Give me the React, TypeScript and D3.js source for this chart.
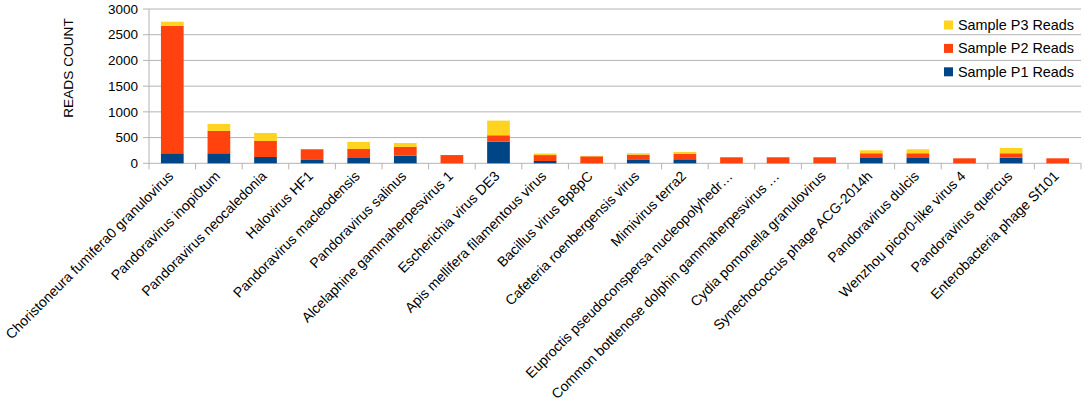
import React from 'react';
import * as d3 from 'd3';

// virus names along the x axis
const categories = [
  'Choristoneura fumifera0 granulovirus',
  'Pandoravirus inopi0tum',
  'Pandoravirus neocaledonia',
  'Halovirus HF1',
  'Pandoravirus macleodensis',
  'Pandoravirus salinus',
  'Alcelaphine gammaherpesvirus 1',
  'Escherichia virus DE3',
  'Apis mellifera filamentous virus',
  'Bacillus virus Bp8pC',
  'Cafeteria roenbergensis virus',
  'Mimivirus terra2',
  'Euproctis pseudoconspersa nucleopolyhedr…',
  'Common bottlenose dolphin gammaherpesvirus …',
  'Cydia pomonella granulovirus',
  'Synechococcus phage ACG-2014h',
  'Pandoravirus dulcis',
  'Wenzhou picor0-like virus 4',
  'Pandoravirus quercus',
  'Enterobacteria phage Sf101',
];

const p1Reads = [195, 195, 123, 65, 103, 150, 0, 421, 45, 0, 65, 78, 0, 0, 0, 103, 103, 0, 110, 0];
const p2Reads = [2480, 434, 311, 208, 175, 168, 160, 124, 115, 136, 103, 109, 117, 117, 117, 92, 92, 97, 85, 97];
const p3Reads = [78, 137, 156, 0, 137, 77, 0, 285, 30, 8, 27, 33, 0, 0, 0, 58, 78, 0, 103, 0];

const yTicks = [0, 500, 1000, 1500, 2000, 2500, 3000];

const seriesKeys = ['p1', 'p2', 'p3'];
const seriesNames: Record<string, string> = {
  p1: 'Sample P1 Reads',
  p2: 'Sample P2 Reads',
  p3: 'Sample P3 Reads',
};
const colors: Record<string, string> = {
  p1: '#004586',
  p2: '#ff420e',
  p3: '#ffd320',
};

const font = '"Liberation Sans", Arial, sans-serif';

const App: React.FC = () => {
  const width = 1084;
  const height = 401;
  const margin = { top: 9, right: 3, left: 149 };
  const plotBottom = 163.3;
  const plotRight = width - margin.right;

  const rows = categories.map((c, i) => ({
    name: c,
    p1: p1Reads[i],
    p2: p2Reads[i],
    p3: p3Reads[i],
  }));

  const stacked = d3.stack<any>().keys(seriesKeys)(rows);

  // cells (for ticks) and bars (narrower, centred in cells)
  const xCell = d3.scaleBand<string>().domain(categories).range([margin.left, plotRight]);
  const xBar = d3
    .scaleBand<string>()
    .domain(categories)
    .range([margin.left, plotRight])
    .paddingInner(0.513)
    .paddingOuter(0.2565);

  const y = d3.scaleLinear().domain([0, 3000]).range([plotBottom, margin.top]);

  const grid = '#b3b3b3';

  return (
    <div style={{ position: 'absolute', left: 0, top: 0 }}>
      <svg width={width} height={height} style={{ display: 'block', background: '#fff' }}>
        {/* horizontal gridlines with small ticks left of axis */}
        {yTicks.map(t => (
          <g key={t}>
            <line x1={margin.left - 6} x2={plotRight} y1={y(t)} y2={y(t)} stroke={grid} strokeWidth={1} />
            <text
              x={138}
              y={y(t)}
              dy="0.35em"
              textAnchor="end"
              fontFamily={font}
              fontSize={13.5}
              fill="#000"
            >
              {t}
            </text>
          </g>
        ))}
        {/* y axis line */}
        <line x1={margin.left} x2={margin.left} y1={margin.top} y2={plotBottom + 6} stroke={grid} />
        {/* x tick marks at cell boundaries */}
        {categories.map(c => (
          <line
            key={'t' + c}
            x1={(xCell(c) as number) + xCell.bandwidth()}
            x2={(xCell(c) as number) + xCell.bandwidth()}
            y1={plotBottom}
            y2={plotBottom + 6}
            stroke={grid}
          />
        ))}

        {/* stacked bars */}
        {stacked.map(s => (
          <g key={s.key} fill={colors[s.key]}>
            {s.map((d, i) => {
              const h = y(d[0]) - y(d[1]);
              if (h <= 0) return null;
              return (
                <rect
                  key={i}
                  x={xBar(categories[i])}
                  width={xBar.bandwidth()}
                  y={y(d[1])}
                  height={h}
                />
              );
            })}
          </g>
        ))}

        {/* rotated category labels */}
        {categories.map(c => {
          const cx = (xCell(c) as number) + xCell.bandwidth() / 2 + 2;
          const cy = 177;
          return (
            <text
              key={'l' + c}
              transform={`translate(${cx},${cy}) rotate(-45)`}
              textAnchor="end"
              fontFamily={font}
              fontSize={14}
              fill="#000"
            >
              {c}
            </text>
          );
        })}

        {/* y axis title */}
        <text
          transform={`translate(73,68) rotate(-90)`}
          textAnchor="middle"
          fontFamily={font}
          fontSize={13.7}
          fill="#000"
        >
          READS COUNT
        </text>

        {/* legend */}
        {['p3', 'p2', 'p1'].map((k, i) => (
          <g key={'lg' + k} transform={`translate(944,${25 + i * 23.4})`}>
            <rect x={0} y={-4.5} width={9} height={9} fill={colors[k]} />
            <text x={14} y={0} dy="0.35em" fontFamily={font} fontSize={14.4} fill="#000">
              {seriesNames[k]}
            </text>
          </g>
        ))}
      </svg>
    </div>
  );
};

export default App;
